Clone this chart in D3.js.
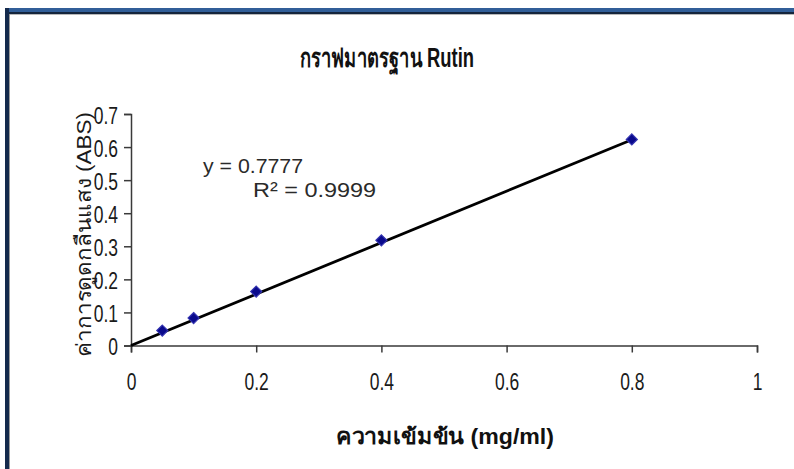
<!DOCTYPE html>
<html>
<head>
<meta charset="utf-8">
<script src="https://cdn.jsdelivr.net/npm/d3@7/dist/d3.min.js"></script>
<style>
  html, body { margin: 0; padding: 0; background: #fff; }
  svg { display: block; }
  text { font-family: "Liberation Sans", Arial, "Noto Sans", sans-serif; }
</style>
</head>
<body>
<svg id="chart" width="794" height="469"></svg>
<script>
// Rutin standard curve: concentration (mg/ml) vs absorbance
const concentration = [0.05, 0.1, 0.2, 0.4, 0.8];
const absorbance = [0.045, 0.083, 0.163, 0.318, 0.623];
const xTicks = [0, 0.2, 0.4, 0.6, 0.8, 1];
const yTicks = [0, 0.1, 0.2, 0.3, 0.4, 0.5, 0.6, 0.7];
const slope = 0.7777;
const rSquared = 0.9999;

const titleText = "กราฟมาตรฐาน Rutin";
const xTitle = "ความเข้มข้น (mg/ml)";
const yTitle = "ค่าการดูดกลืนแสง (ABS)";

const svg = d3.select("#chart");

// window frame
svg.append("rect").attr("x", 5).attr("y", 8).attr("width", 789).attr("height", 4).attr("fill", "#315e98");
svg.append("rect").attr("x", 5).attr("y", 12).attr("width", 789).attr("height", 2).attr("fill", "#14243c");
svg.append("rect").attr("x", 9).attr("y", 14).attr("width", 785).attr("height", 1).attr("fill", "#b8b8b8");
svg.append("rect").attr("x", 5).attr("y", 8).attr("width", 4).attr("height", 461).attr("fill", "#142a4c");
svg.append("rect").attr("x", 9).attr("y", 14).attr("width", 1).attr("height", 455).attr("fill", "#9a9a9a");

const x = d3.scaleLinear().domain([0, 1]).range([131, 757]);
const y = d3.scaleLinear().domain([0, 0.7]).range([345.5, 114]);

const axisColor = "#3a3a3a";
const squeeze = 0.76;   // condensed digits for tick labels
const fmt = d => (d === 0 || d === 1) ? String(d) : d3.format(".1f")(d);

// x axis
const gx = svg.append("g").attr("transform", `translate(0,${y(0)})`)
  .call(d3.axisBottom(x).tickValues(xTicks).tickSize(7).tickPadding(21).tickFormat(fmt));
gx.select(".domain").attr("stroke", axisColor).attr("stroke-width", 1.5);
gx.selectAll(".tick line").attr("stroke", axisColor).attr("stroke-width", 1.5);
gx.selectAll(".tick text").style("font-size", "23px").attr("fill", "#1a1a1a")
  .attr("dy", "0.71em")
  .attr("transform", `scale(${squeeze},1)`);

// y axis
const gy = svg.append("g").attr("transform", `translate(${x(0)},0)`)
  .call(d3.axisLeft(y).tickValues(yTicks).tickSize(7).tickPadding(7).tickFormat(fmt));
gy.select(".domain").attr("stroke", axisColor).attr("stroke-width", 1.5);
gy.selectAll(".tick line").attr("stroke", axisColor).attr("stroke-width", 1.5);
gy.selectAll(".tick text").style("font-size", "23px").attr("fill", "#1a1a1a")
  .attr("x", -13 / squeeze).attr("dy", "0.4em")
  .attr("transform", `scale(${squeeze},1)`);

// linear trendline through the origin
const xMax = d3.max(concentration);
svg.append("line")
  .attr("x1", x(0)).attr("y1", y(0))
  .attr("x2", x(xMax)).attr("y2", y(slope * xMax))
  .attr("stroke", "#000").attr("stroke-width", 2.8);

// measured points
svg.append("g").selectAll("path")
  .data(concentration.map((c, i) => [c, absorbance[i]]))
  .join("path")
  .attr("transform", d => `translate(${x(d[0])},${y(d[1])})`)
  .attr("d", d3.symbol().type(d3.symbolDiamond2).size(78))
  .attr("fill", "#0a0a8c").attr("stroke", "#3434b0").attr("stroke-width", 1.2);

// regression annotation
svg.append("text").attr("x", 203).attr("y", 173)
  .style("font-size", "21px").attr("fill", "#2a2a2a")
  .attr("textLength", 100).attr("lengthAdjust", "spacingAndGlyphs")
  .text(`y = ${slope}`);
svg.append("text").attr("x", 253).attr("y", 197)
  .style("font-size", "21px").attr("fill", "#2a2a2a")
  .attr("textLength", 123).attr("lengthAdjust", "spacingAndGlyphs")
  .text(`R² = ${rSquared}`);

// titles
svg.append("text").attr("x", 300).attr("y", 67)
  .style("font-size", "27px").attr("font-weight", "bold").attr("fill", "#111")
  .attr("textLength", 174).attr("lengthAdjust", "spacingAndGlyphs")
  .text(titleText);

svg.append("text").attr("x", 336).attr("y", 444)
  .style("font-size", "22px").attr("font-weight", "bold").attr("fill", "#111")
  .attr("textLength", 218).attr("lengthAdjust", "spacingAndGlyphs")
  .text(xTitle);

svg.append("text")
  .attr("transform", `translate(91,357) rotate(-90)`)
  .style("font-size", "21px").attr("fill", "#1a1a1a")
  .attr("textLength", 245).attr("lengthAdjust", "spacingAndGlyphs")
  .text(yTitle);
</script>
</body>
</html>
